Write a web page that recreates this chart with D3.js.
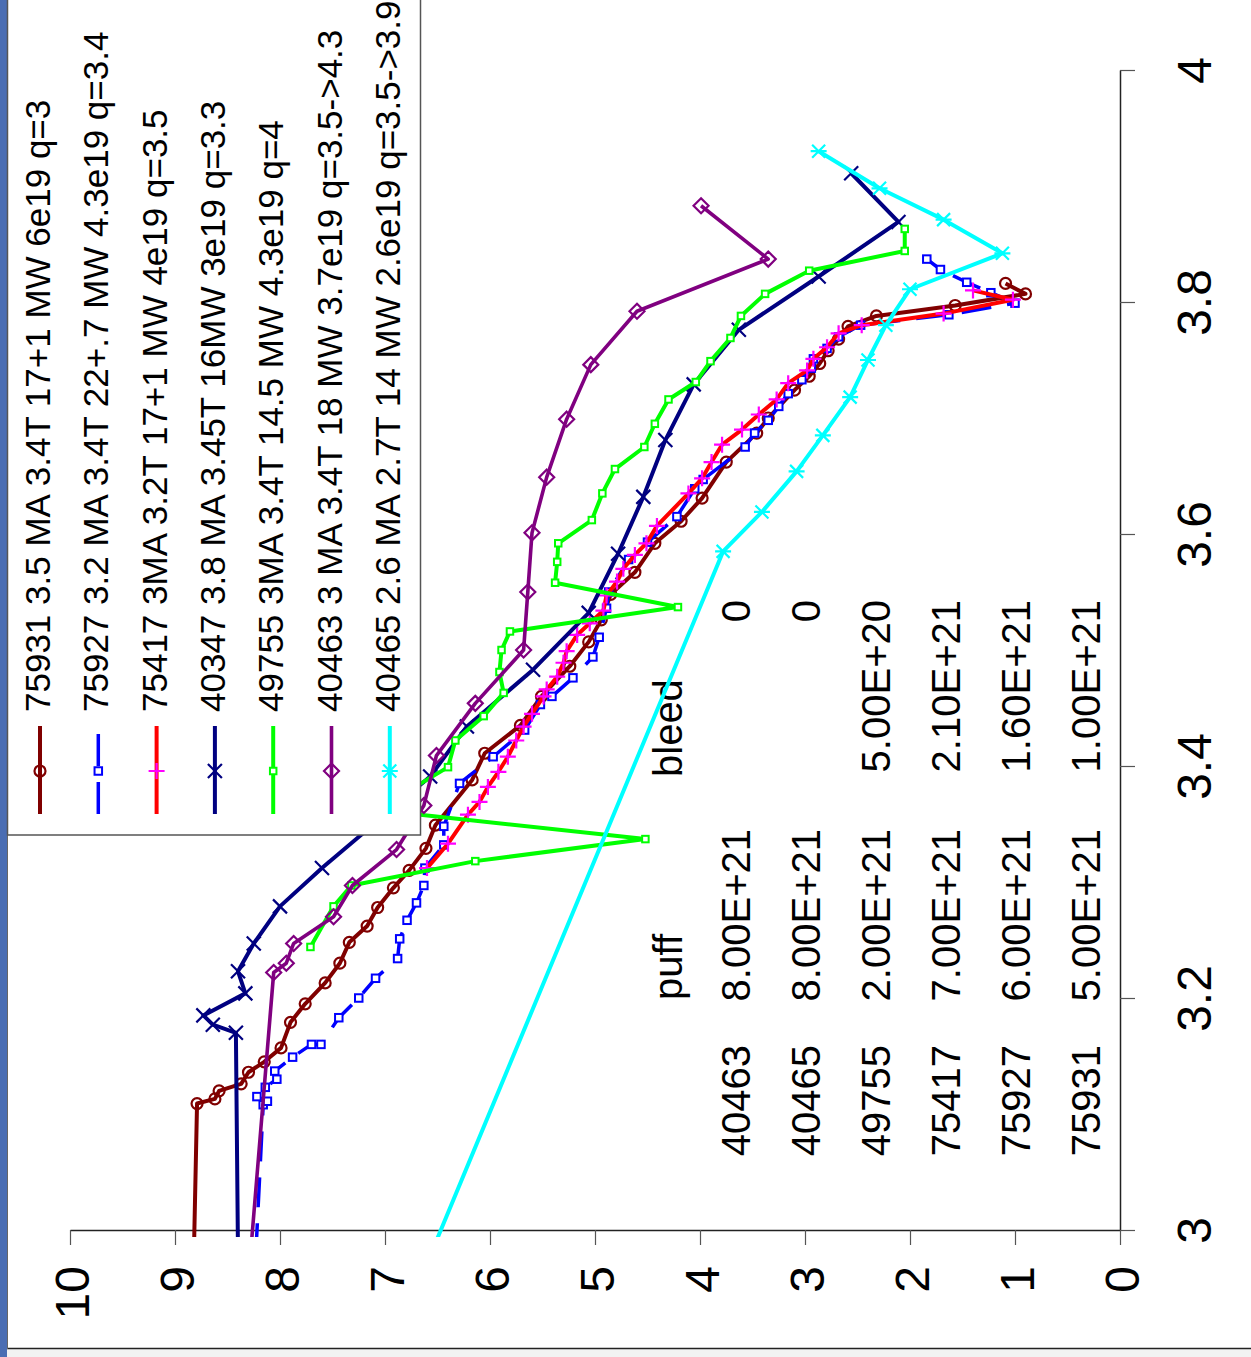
<!DOCTYPE html>
<html>
<head>
<meta charset="utf-8">
<script src="https://cdn.jsdelivr.net/npm/d3@7"></script>
<style>
  body { margin: 0; background: #fff; }
  svg { display: block; font-family: "Liberation Sans", Arial, sans-serif; }
</style>
</head>
<body>
<div id="chart"></div>
<script>
// ---- data: [x, y] pairs, x = 3..4 axis, y = 0..10 axis ----
const s75931 = [[2.98,8.82],[3.109,8.79],[3.113,8.62],[3.120,8.58],[3.126,8.37],[3.136,8.30],[3.145,8.15],[3.157,7.99],[3.179,7.90],[3.195,7.76],[3.213,7.57],[3.230,7.43],[3.248,7.34],[3.262,7.17],[3.278,7.07],[3.295,6.92],[3.310,6.77],[3.329,6.61],[3.349,6.52],[3.388,6.17],[3.411,6.05],[3.435,5.71],[3.460,5.51],[3.486,5.24],[3.507,5.06],[3.526,4.94],[3.548,4.85],[3.567,4.62],[3.592,4.43],[3.611,4.18],[3.631,3.98],[3.662,3.75],[3.687,3.46],[3.700,3.35],[3.724,3.10],[3.736,2.96],[3.747,2.86],[3.758,2.78],[3.768,2.68],[3.779,2.59],[3.788,2.32],[3.797,1.57],[3.807,0.90],[3.816,1.09]];
const s75927 = [[2.98,8.23],[3.108,8.16],[3.111,8.12],[3.115,8.22],[3.123,8.14],[3.130,8.03],[3.137,8.05],[3.149,7.88],[3.160,7.70],[3.160,7.61],[3.183,7.44],[3.200,7.25],[3.217,7.09],[3.234,6.88],[3.251,6.86],[3.267,6.79],[3.282,6.70],[3.297,6.63],[3.312,6.62],[3.332,6.44],[3.348,6.44],[3.385,6.29],[3.408,5.97],[3.431,5.67],[3.453,5.52],[3.460,5.41],[3.476,5.21],[3.494,5.02],[3.511,4.96],[3.536,4.89],[3.550,4.87],[3.578,4.68],[3.593,4.50],[3.615,4.22],[3.639,4.05],[3.647,3.97],[3.675,3.57],[3.687,3.48],[3.698,3.35],[3.710,3.25],[3.721,3.16],[3.733,3.03],[3.743,2.94],[3.751,2.92],[3.760,2.79],[3.770,2.68],[3.780,2.47],[3.789,1.63],[3.799,1.00],[3.808,1.23],[3.817,1.46],[3.828,1.71],[3.837,1.84]];
const s75417 = [[3.312,6.60],[3.333,6.40],[3.358,6.21],[3.369,6.10],[3.382,6.02],[3.395,5.92],[3.408,5.83],[3.422,5.75],[3.434,5.68],[3.445,5.60],[3.460,5.49],[3.466,5.46],[3.477,5.36],[3.489,5.30],[3.499,5.27],[3.513,5.17],[3.523,5.05],[3.534,4.92],[3.547,4.89],[3.559,4.79],[3.570,4.73],[3.582,4.62],[3.592,4.51],[3.607,4.41],[3.635,4.11],[3.648,3.98],[3.662,3.89],[3.677,3.79],[3.690,3.60],[3.703,3.44],[3.716,3.27],[3.730,3.16],[3.741,2.98],[3.751,2.92],[3.761,2.79],[3.773,2.68],[3.780,2.46],[3.790,1.68],[3.802,1.02],[3.810,1.40]];
const s40347 = [[2.98,8.40],[3.170,8.42],[3.177,8.64],[3.185,8.73],[3.204,8.33],[3.223,8.40],[3.247,8.25],[3.279,8.00],[3.312,7.60],[3.391,6.57],[3.434,6.22],[3.483,5.59],[3.532,5.06],[3.583,4.78],[3.632,4.54],[3.681,4.33],[3.729,4.06],[3.776,3.63],[3.822,2.87],[3.869,2.11],[3.911,2.56]];
const s49755 = [[3.244,7.71],[3.279,7.49],[3.297,7.32],[3.318,6.14],[3.337,4.52],[3.362,7.08],[3.399,6.40],[3.422,6.33],[3.443,6.06],[3.463,5.87],[3.481,5.91],[3.500,5.89],[3.516,5.81],[3.537,4.21],[3.558,5.38],[3.576,5.36],[3.592,5.35],[3.612,5.03],[3.635,4.93],[3.656,4.81],[3.675,4.53],[3.695,4.43],[3.716,4.30],[3.731,4.04],[3.749,3.90],[3.769,3.71],[3.788,3.61],[3.807,3.38],[3.827,2.96],[3.844,2.05],[3.863,2.05]];
const s40463 = [[2.98,8.28],[3.222,8.06],[3.230,7.94],[3.247,7.87],[3.270,7.49],[3.297,7.31],[3.328,6.89],[3.366,6.63],[3.409,6.51],[3.454,6.14],[3.500,5.68],[3.550,5.64],[3.601,5.60],[3.649,5.46],[3.699,5.27],[3.746,5.04],[3.792,4.60],[3.837,3.35],[3.883,3.99]];
const s40465 = [[2.98,6.56],[3.585,3.78],[3.619,3.41],[3.654,3.08],[3.685,2.83],[3.718,2.57],[3.750,2.40],[3.780,2.23],[3.811,2.00],[3.842,1.12],[3.871,1.68],[3.898,2.29],[3.930,2.87]];

const seriesNames = [
  "75931 3.5 MA 3.4T 17+1 MW 6e19 q=3",
  "75927 3.2 MA 3.4T 22+.7 MW 4.3e19 q=3.4",
  "75417 3MA 3.2T 17+1 MW 4e19 q=3.5",
  "40347 3.8 MA 3.45T 16MW 3e19 q=3.3",
  "49755 3MA 3.4T 14.5 MW 4.3e19 q=4",
  "40463 3 MA 3.4T 18 MW 3.7e19 q=3.5->4.3",
  "40465 2.6 MA 2.7T 14 MW 2.6e19 q=3.5->3.9"
];
const seriesData = [s75931, s75927, s75417, s40347, s49755, s40463, s40465];
const lineColors = ["#800000", "#0000ff", "#ff0000", "#000080", "#00ff00", "#800080", "#00ffff"];
const markerColors = ["#800000", "#0000ff", "#ff00ff", "#000080", "#00ff00", "#800080", "#00ffff"];
const markerTypes = ["circle", "square", "plus", "cross", "smallsquare", "diamond", "star"];
const lineWidths = [4, 3.5, 4, 4, 4, 3.6, 4];

const xTicks = [3, 3.2, 3.4, 3.6, 3.8, 4];
const yTicks = [0, 1, 2, 3, 4, 5, 6, 7, 8, 9, 10];

// table of puff / bleed values shown in the sheet behind the chart
const tableIds = ["40463", "40465", "49755", "75417", "75927", "75931"];
const puffVals = ["8.00E+21", "8.00E+21", "2.00E+21", "7.00E+21", "6.00E+21", "5.00E+21"];
const bleedVals = ["0", "0", "5.00E+20", "2.10E+21", "1.60E+21", "1.00E+21"];

// ---- drawing ----
const width = 1251, height = 1357;
const svg = d3.select("#chart").append("svg")
    .attr("width", width)
    .attr("height", height);

// page frame
svg.append("rect").attr("x", 0).attr("y", 0).attr("width", 7).attr("height", height).attr("fill", "#4a6db3");
svg.append("rect").attr("x", 7).attr("y", 1349).attr("width", width - 7).attr("height", 8).attr("fill", "#f2f2f2");
svg.append("line").attr("x1", 7).attr("x2", width).attr("y1", 1348.5).attr("y2", 1348.5)
    .attr("stroke", "#222").attr("stroke-width", 1.5);
svg.append("line").attr("x1", 7.5).attr("x2", 7.5).attr("y1", 0).attr("y2", 1349)
    .attr("stroke", "#666").attr("stroke-width", 1);

// chart is turned 90 degrees: the 3..4 axis runs up the page, the 0..10 axis runs right to left
const xS = d3.scaleLinear().domain([3, 4]).range([1230, 70]);
const yS = d3.scaleLinear().domain([0, 10]).range([1120, 70]);

// sheet table (behind the plot)
const tbl = svg.append("g").attr("font-size", 40).attr("fill", "#000");
const rowX = i => 750 + i * 70;
function rotText(x, y, anchor, txt) {
    tbl.append("text")
        .attr("transform", `translate(${x},${y}) rotate(-90)`)
        .attr("text-anchor", anchor)
        .text(txt);
}
rotText(682, 1000, "start", "puff");
rotText(682, 777, "start", "bleed");
tableIds.forEach((d, i) => {
    rotText(rowX(i), 1045, "end", d);
    rotText(rowX(i), 829, "end", puffVals[i]);
    rotText(rowX(i), 600, "end", bleedVals[i]);
});

// axes
const xAxis = svg.append("g")
    .attr("transform", "translate(1120,0)")
    .call(d3.axisRight(xS).tickValues(xTicks).tickSize(15).tickSizeOuter(0).tickFormat(d3.format("")));
const yAxis = svg.append("g")
    .attr("transform", "translate(0,1230)")
    .call(d3.axisBottom(yS).tickValues(yTicks).tickSize(15).tickSizeOuter(0));

[xAxis, yAxis].forEach(ax => {
    ax.attr("font-family", null).attr("font-size", 48);
    ax.select(".domain").attr("stroke", "#222").attr("stroke-width", 1.5);
    ax.selectAll(".tick line").attr("stroke", "#555").attr("stroke-width", 1.2);
});
xAxis.selectAll(".tick text")
    .attr("x", null).attr("dy", null)
    .attr("text-anchor", "middle")
    .attr("fill", "#000")
    .attr("transform", "translate(91,0) rotate(-90)");
yAxis.selectAll(".tick text")
    .attr("y", null).attr("dy", null)
    .attr("text-anchor", "end")
    .attr("fill", "#000")
    .attr("transform", "translate(18,36) rotate(-90)");

// clip to plot area
svg.append("defs").append("clipPath").attr("id", "plotclip")
    .append("rect")
    .attr("x", yS(10)).attr("y", xS(4))
    .attr("width", yS(0) - yS(10))
    .attr("height", xS(2.994) - xS(4));

const plot = svg.append("g").attr("clip-path", "url(#plotclip)");

const line = d3.line()
    .x(d => yS(d[1]))
    .y(d => xS(d[0]));

function drawMarker(sel, type, color) {
    if (type === "circle") {
        sel.append("circle").attr("r", 5.5)
            .attr("fill", "none").attr("stroke", color).attr("stroke-width", 2.2);
    } else if (type === "square" || type === "smallsquare") {
        const s = type === "square" ? 7.5 : 6.5;
        sel.append("rect").attr("x", -s / 2).attr("y", -s / 2).attr("width", s).attr("height", s)
            .attr("fill", "#fff").attr("stroke", color).attr("stroke-width", 2);
    } else {
        const paths = {
            plus: "M-8,0H8M0,-8V8",
            cross: "M-7,-7L7,7M-7,7L7,-7",
            diamond: "M0,-7.5L7.5,0L0,7.5L-7.5,0Z",
            star: "M-6.5,-6.5L6.5,6.5M-6.5,6.5L6.5,-6.5M-8,0H8"
        };
        sel.append("path").attr("d", paths[type])
            .attr("fill", "none").attr("stroke", color).attr("stroke-width", 2.2);
    }
}

seriesData.forEach((data, i) => {
    const g = plot.append("g").attr("class", "series");
    g.append("path")
        .datum(data)
        .attr("d", line)
        .attr("fill", "none")
        .attr("stroke", lineColors[i])
        .attr("stroke-width", lineWidths[i])
        .attr("stroke-linejoin", "round")
        .attr("stroke-dasharray", i === 1 ? "30,16" : null);
    g.selectAll(".pt")
        .data(data)
        .enter().append("g")
        .attr("class", "pt")
        .attr("transform", d => `translate(${yS(d[1])},${xS(d[0])})`)
        .each(function() { drawMarker(d3.select(this), markerTypes[i], markerColors[i]); });
});

// legend (drawn over the plot)
const legend = svg.append("g").attr("class", "legend");
legend.append("rect")
    .attr("x", 7.5).attr("y", -2)
    .attr("width", 413).attr("height", 837)
    .attr("fill", "#fff")
    .attr("stroke", "#555").attr("stroke-width", 1.5);

const item = legend.selectAll(".legend-item")
    .data(seriesNames)
    .enter().append("g")
    .attr("class", "legend-item")
    .attr("transform", (d, i) => `translate(${40 + i * 58.3},0)`);

item.append("line")
    .attr("x1", 0).attr("x2", 0)
    .attr("y1", 814).attr("y2", 726)
    .attr("stroke", (d, i) => lineColors[i])
    .attr("stroke-width", (d, i) => lineWidths[i])
    .attr("stroke-dasharray", (d, i) => i === 1 ? "32,16" : null);

item.append("g")
    .attr("transform", "translate(0,771)")
    .each(function(d, i) { drawMarker(d3.select(this), markerTypes[i], markerColors[i]); });

item.append("text")
    .attr("transform", "translate(10,712) rotate(-90)")
    .attr("font-size", 35)
    .attr("fill", "#000")
    .text(d => d);
</script>
</body>
</html>
